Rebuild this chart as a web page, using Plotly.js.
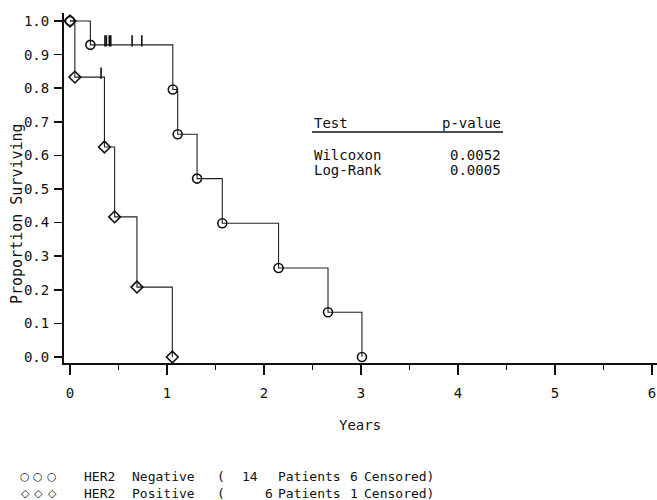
<!DOCTYPE html>
<html>
<head>
<meta charset="utf-8">
<script src="https://cdn.plot.ly/plotly-3.0.1.min.js"></script>
<style>html,body{margin:0;padding:0;background:#fff;}#chart{width:657px;height:500px;}</style>
</head>
<body>
<div id="chart"></div>
<script>
// HER2 Negative (circles): event times (years) and survival after each step
var negTimes = [0, 0.21, 1.06, 1.11, 1.31, 1.57, 2.15, 2.66, 3.01];
var negSurv  = [1.0, 0.929, 0.796, 0.663, 0.531, 0.398, 0.265, 0.133, 0.0];
var negCensorTimes = [0.36, 0.375, 0.405, 0.42, 0.64, 0.74];
var negCensorLevel = [0.929, 0.929, 0.929, 0.929, 0.929, 0.929];

// HER2 Positive (diamonds)
var posTimes = [0, 0.05, 0.355, 0.46, 0.69, 1.055];
var posSurv  = [1.0, 0.833, 0.625, 0.417, 0.208, 0.0];
var posCensorTimes = [0.32];
var posCensorLevel = [0.833];

var xTicks = [0, 1, 2, 3, 4, 5, 6];
var testNames = ['Wilcoxon', 'Log-Rank'];
var pValues = ['0.0052', '0.0005'];
var legendRows = [
  ['HER2', 'Negative', '(', '14', 'Patients', '6', 'Censored)'],
  ['HER2', 'Positive', '(', '6', 'Patients', '1', 'Censored)']
];

var FONT = 'DejaVu Sans Mono, monospace';
var INK = '#111';
var W = 657, H = 500, ML = 64, MR = 0, MT = 13, MB = 137;
var PW = W - ML - MR, PH = H - MT - MB;
function px(x) { return (x - ML) / PW; }
function py(y) { return (H - MB - y) / PH; }

var tickOffset = 0.012;
var traces = [
  {x: posTimes, y: posSurv, mode: 'lines+markers', line: {shape: 'hv', color: '#222', width: 1.1},
   marker: {symbol: 'diamond-open', size: 9, color: '#111', line: {width: 1.6, color: '#111'}}},
  {x: negTimes, y: negSurv, mode: 'lines+markers', line: {shape: 'hv', color: '#222', width: 1.1},
   marker: {symbol: 'circle-open', size: 9, color: '#111', line: {width: 1.6, color: '#111'}}},
  {x: negCensorTimes, y: negCensorLevel.map(function(v){return v + tickOffset;}), mode: 'markers',
   marker: {symbol: 'line-ns-open', size: 8, color: '#111', line: {width: 1.6, color: '#111'}}},
  {x: posCensorTimes, y: posCensorLevel.map(function(v){return v + tickOffset;}), mode: 'markers',
   marker: {symbol: 'line-ns-open', size: 8, color: '#111', line: {width: 1.6, color: '#111'}}}
];

var ann = [];
function txt(t, x, y, anchor, size) {
  ann.push({text: t, xref: 'paper', yref: 'paper', x: px(x), y: py(y), xanchor: anchor || 'left',
            yanchor: 'middle', showarrow: false, font: {family: FONT, size: size || 14, color: INK}});
}
// axis titles
ann.push({text: 'Proportion Surviving', xref: 'paper', yref: 'paper', x: px(17), y: py(214),
          xanchor: 'center', yanchor: 'middle', textangle: -90, showarrow: false,
          font: {family: FONT, size: 15, color: INK}});
txt('Years', 360, 425, 'center');
// test table
txt('Test', 312, 123, 'left');
txt('p-value', 503, 123, 'right');
for (var i = 0; i < testNames.length; i++) {
  txt(testNames[i], 312, 155 + i * 15, 'left');
  txt(pValues[i], 503, 155 + i * 15, 'right');
}
// legend text
var colX = [82, 130, 215, 0, 276, 348, 362];
var numX = [240, 263];
var rowY = [477, 493];
for (var r = 0; r < legendRows.length; r++) {
  for (var c = 0; c < legendRows[r].length; c++) {
    var xx = (c === 3) ? numX[r] : colX[c];
    txt(legendRows[r][c], xx, rowY[r], 'left', 13);
  }
}
var symX = [25, 38, 52];
var syms = ['\u25CB', '\u25C7'];
for (var r2 = 0; r2 < 2; r2++) {
  for (var k = 0; k < symX.length; k++) {
    ann.push({text: syms[r2], xref: 'paper', yref: 'paper', x: px(symX[k]), y: py(rowY[r2]),
              xanchor: 'center', yanchor: 'middle', showarrow: false,
              font: {family: 'DejaVu Sans', size: 11, color: INK}});
  }
}

var layout = {
  width: W, height: H,
  margin: {l: ML, r: MR, t: MT, b: MB, pad: 0},
  paper_bgcolor: '#fff', plot_bgcolor: '#fff',
  showlegend: false,
  xaxis: {
    range: [-0.062, 6.052], tickvals: xTicks, ticktext: xTicks.map(String),
    ticks: 'outside', ticklen: 10, tickwidth: 1.5, tickcolor: '#111',
    minor: {dtick: 0.5, tick0: 0, ticks: 'outside', ticklen: 5, tickwidth: 1.5, tickcolor: '#111', showgrid: false},
    showline: true, linewidth: 2, linecolor: '#111', showgrid: false, zeroline: false,
    tickfont: {family: FONT, size: 14, color: INK}, ticklabelstandoff: 6, fixedrange: true
  },
  yaxis: {
    range: [-0.0179, 1.0238], tick0: 0, dtick: 0.1, tickformat: '.1f',
    ticks: 'outside', ticklen: 8, tickwidth: 1.5, tickcolor: '#111',
    showline: true, linewidth: 2, linecolor: '#111', showgrid: false, zeroline: false,
    tickfont: {family: FONT, size: 14, color: INK}, ticklabelstandoff: 2, fixedrange: true
  },
  annotations: ann,
  shapes: [{type: 'line', xref: 'paper', yref: 'paper', x0: px(312), x1: px(503), y0: py(132), y1: py(132),
            line: {color: '#111', width: 1.5}}]
};

Plotly.newPlot('chart', traces, layout, {displayModeBar: false, staticPlot: true});
</script>
</body>
</html>
